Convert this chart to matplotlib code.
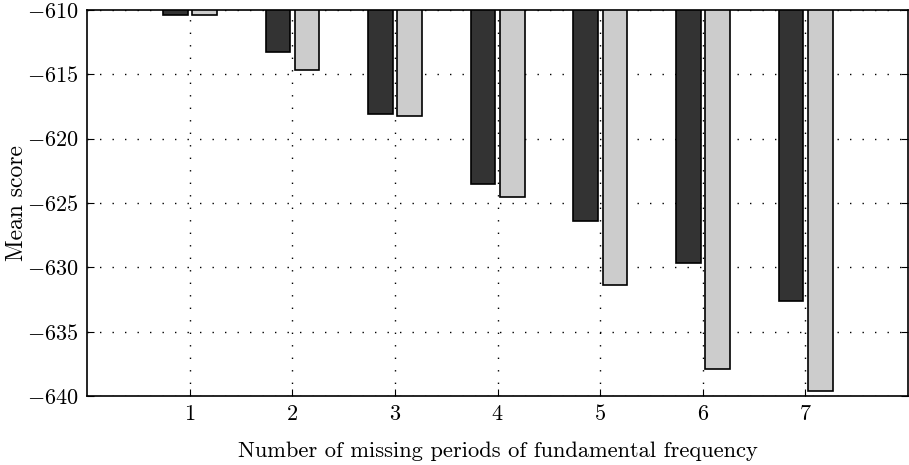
import numpy as np
import matplotlib.pyplot as plt

plt.rcParams['font.family'] = 'serif'
plt.rcParams['font.serif'] = ['cmr10']
plt.rcParams['mathtext.fontset'] = 'cm'
plt.rcParams['axes.formatter.use_mathtext'] = True

periods = [1, 2, 3, 4, 5, 6, 7]
score_a = [-610.4, -613.3, -618.1, -623.5, -626.4, -629.7, -632.6]
score_b = [-610.4, -614.7, -618.2, -624.5, -631.4, -637.9, -639.6]

x = np.array(periods)
w = 0.24

fig = plt.figure(figsize=(9.09, 4.65), dpi=100)
ax = fig.add_axes([0.0957, 0.1484, 0.9033, 0.8301])

ax.bar(x - 0.14, np.array(score_a) + 610, w, bottom=-610,
       color='#333333', edgecolor='black', linewidth=1.2, zorder=3)
ax.bar(x + 0.145, np.array(score_b) + 610, w, bottom=-610,
       color='#cccccc', edgecolor='black', linewidth=1.2, zorder=3)

ax.set_xlim(0, 8)
ax.set_ylim(-640, -610)
ax.set_xticks(periods)
ax.set_yticks(np.arange(-640, -609, 5))
ax.grid(True, color='black', linestyle=(0, (1, 8)), linewidth=1.0, zorder=1)
ax.tick_params(direction='in', right=True, length=5, labelsize=16, pad=6)
for s in ax.spines.values():
    s.set_linewidth(1.2)

ax.set_xlabel('Number of missing periods of fundamental frequency', fontsize=16.2, labelpad=12)
ax.set_ylabel('Mean score', fontsize=17, labelpad=-1)

fig.savefig('out.png', dpi=100)
